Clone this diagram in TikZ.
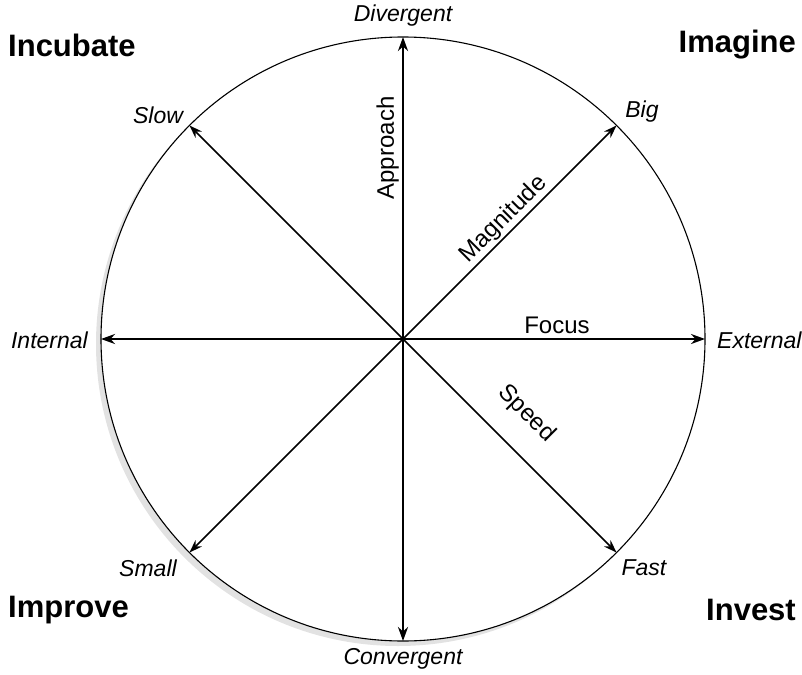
\documentclass[tikz,border=0pt]{standalone}
\usepackage{fontspec}
\setmainfont{Liberation Sans}
\usepackage{xcolor}
\usetikzlibrary{positioning,calc,arrows.meta}
\definecolor{cmpLine}{HTML}{000000}
\definecolor{cmpShadow}{HTML}{E2E2E2}

\tikzset{
  axisMain/.style={cmpLine, line width=2.6pt, {Stealth[length=14pt,width=10pt]}-{Stealth[length=14pt,width=10pt]}},
  axisDiag/.style={cmpLine, line width=1.6pt, {Stealth[length=13pt,width=9pt]}-{Stealth[length=13pt,width=9pt]}},
  poleLab/.style={font=\fontsize{23}{26}\selectfont\itshape, inner sep=1pt},
  axisLab/.style={font=\fontsize{24}{27}\selectfont, inner sep=2pt},
  zoneLab/.style={font=\fontsize{31}{34}\selectfont\bfseries, inner sep=0pt}
}

\begin{document}
\begin{tikzpicture}[x=1pt, y=-1pt]

\useasboundingbox (0,0) rectangle (802,674);

\def\cx{403}
\def\cy{339}
\def\rad{302}
\pgfmathsetmacro\dg{\rad*cos(45)}

% --- CIRCLE WITH SHADOW ---
\fill[cmpShadow] (\cx-5, \cy+5) circle (\rad);
\draw[cmpLine, fill=white, line width=1.1pt] (\cx, \cy) circle (\rad);

% --- ARROW ENDS ON THE CIRCLE ---
\coordinate (tipN)  at (\cx, \cy-\rad);
\coordinate (tipS)  at (\cx, \cy+\rad);
\coordinate (tipW)  at (\cx-\rad, \cy);
\coordinate (tipE)  at (\cx+\rad, \cy);
\coordinate (tipNE) at (\cx+\dg, \cy-\dg);
\coordinate (tipSW) at (\cx-\dg, \cy+\dg);
\coordinate (tipNW) at (\cx-\dg, \cy-\dg);
\coordinate (tipSE) at (\cx+\dg, \cy+\dg);

% --- AXES ---
\draw[axisMain] (tipS) -- (tipN);
\draw[axisMain] (tipW) -- (tipE);
\draw[axisDiag] (tipSW) -- (tipNE);
\draw[axisDiag] (tipSE) -- (tipNW);

% --- AXIS NAMES ---
\node[axisLab, rotate=90, anchor=south] (approach) at (\cx-2, 148) {Approach};
\node[axisLab, rotate=45, anchor=south] (magnitude) at (513, 229) {Magnitude};
\node[axisLab, anchor=south] (focus) at (557, 336) {Focus};
\node[axisLab, rotate=-45, anchor=south] (speed) at (517, 423) {Speed};

% --- POLE LABELS ---
\node[poleLab] (divergent)  at (\cx, 16) {Divergent};
\node[poleLab] (convergent) at (\cx, 659) {Convergent};
\node[poleLab, anchor=east] (internal) at (89, 340) {Internal};
\node[poleLab, anchor=west] (external) at (716, 340) {External};
\node[poleLab] (slow)  at (158, 115) {Slow};
\node[poleLab] (big)   at (642, 112) {Big};
\node[poleLab] (small) at (148, 568) {Small};
\node[poleLab] (fast)  at (644, 568) {Fast};

% --- QUADRANT NAMES ---
\node[zoneLab, anchor=west] (incubate) at (8, 45) {Incubate};
\node[zoneLab, anchor=east] (imagine)  at (796, 45) {Imagine};
\node[zoneLab, anchor=west] (improve)  at (8, 610) {Improve};
\node[zoneLab, anchor=east] (invest)   at (796, 610) {Invest};

\end{tikzpicture}
\end{document}
